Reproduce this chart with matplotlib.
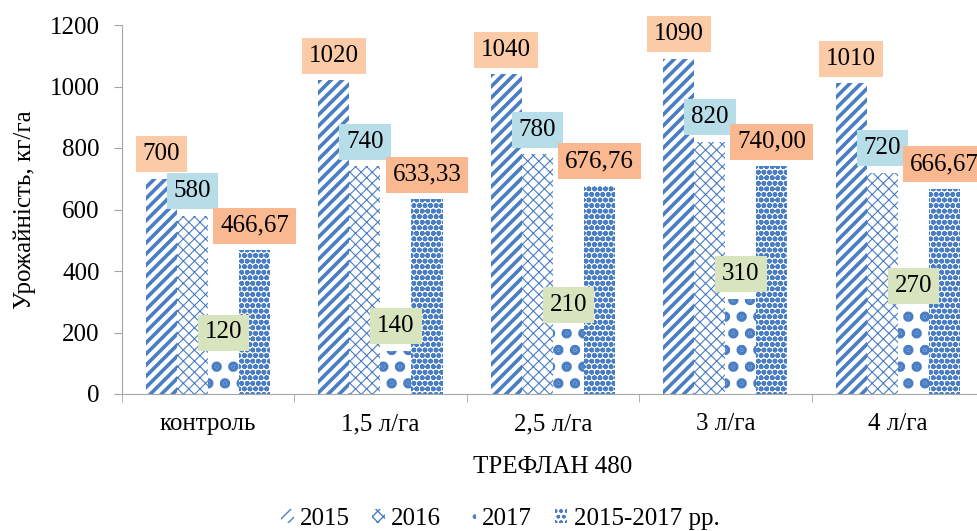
import matplotlib
matplotlib.use("Agg")
import matplotlib.pyplot as plt
import numpy as np

categories = ["контроль", "1,5 л/га", "2,5 л/га", "3 л/га", "4 л/га"]
series_names = ["2015", "2016", "2017", "2015-2017 рр."]
v2015 = [700, 1020, 1040, 1090, 1010]
v2016 = [580, 740, 780, 820, 720]
v2017 = [120, 140, 210, 310, 270]
vavg = [466.67, 633.33, 676.76, 740.00, 666.67]
avg_labels = ["466,67", "633,33", "676,76", "740,00", "666,67"]

plt.rcParams['font.family'] = ['Liberation Serif', 'DejaVu Serif']
plt.rcParams['hatch.color'] = '#4a7ec4'

fig = plt.figure(figsize=(9.77, 5.31), dpi=100)
ax = fig.add_axes([121.8/977, 1 - 394/531, 862.2/977, (394-25)/531])

x = np.arange(len(categories))
w = 0.18
offs = [-1.5*w, -0.5*w, 0.5*w, 1.5*w]
hatches = ['///', 'xxx', '.', 'ooo']
hlw = [2.6, 0.8, 5.0, 1.8]
data = [v2015, v2016, v2017, vavg]
bars = []
for i, (vals, h) in enumerate(zip(data, hatches)):
    with plt.rc_context({'hatch.linewidth': hlw[i]}):
        b = ax.bar(x + offs[i], vals, w, facecolor='white', edgecolor='#4a7ec4',
                   hatch=h, linewidth=0, label=series_names[i])
    bars.append(b)

box_colors = ['#fbcaa6', '#b7dde8', '#d7e4bd', '#fab890']
FS = 18
for i, vals in enumerate(data):
    for j, v in enumerate(vals):
        txt = avg_labels[j] if i == 3 else str(int(v))
        ax.text(x[j] + offs[i], v + 80, txt, ha='center', va='center',
                fontsize=FS, color='black', clip_on=False,
                bbox=dict(boxstyle='square,pad=0.28', facecolor=box_colors[i], edgecolor='none'))

ax.set_xlim(-0.5, len(categories) - 0.5)
ax.set_ylim(0, 1200)
ax.set_yticks(np.arange(0, 1201, 200))
ax.set_xticks(x)
ax.set_xticklabels(categories, fontsize=FS)
ax.set_xticks(np.arange(-0.5, len(categories), 1), minor=True)
ax.tick_params(axis='x', which='major', length=0, pad=14)
ax.tick_params(axis='x', which='minor', length=6, color='#a6a6a6')
ax.tick_params(axis='y', labelsize=FS, length=6, color='#a6a6a6', pad=10)
for s in ['top', 'right']:
    ax.spines[s].set_visible(False)
for s in ['left', 'bottom']:
    ax.spines[s].set_color('#a6a6a6')
ax.set_ylabel("Урожайність, кг/га", fontsize=FS, labelpad=10)
ax.set_xlabel("ТРЕФЛАН 480", fontsize=FS, labelpad=15)

leg = fig.legend(handles=bars, labels=series_names, loc='center', bbox_to_anchor=(0.512, 1 - 519/531),
                 ncol=4, frameon=False, fontsize=FS, handlelength=0.5, handleheight=0.5,
                 handletextpad=0.25, columnspacing=0.9)

fig.savefig("out.png", dpi=100)
